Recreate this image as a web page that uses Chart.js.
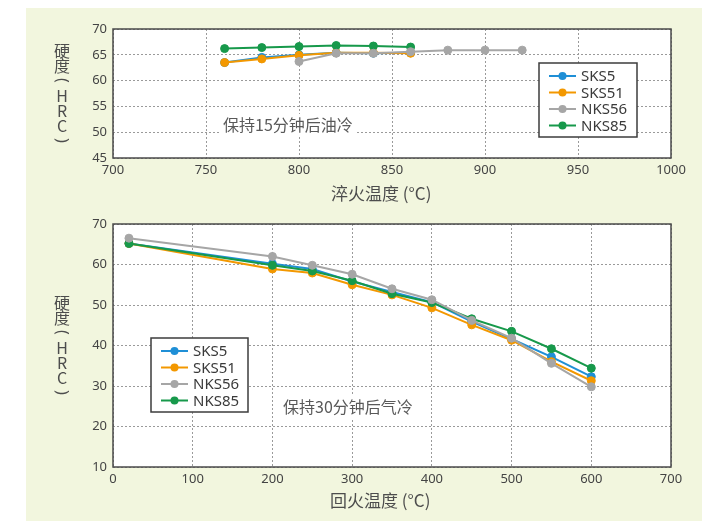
<!DOCTYPE html>
<html>
<head>
<meta charset="utf-8">
<script src="https://cdn.jsdelivr.net/npm/chart.js@4.4.1/dist/chart.umd.min.js"></script>
<style>
  html, body { margin: 0; padding: 0; background: #ffffff; }
  #wrap { position: relative; width: 716px; height: 521px; overflow: hidden; }
  #panel { position: absolute; left: 26px; top: 8px; width: 676px; height: 513px; background: #f2f6de; }
  canvas { position: absolute; left: 0; }
  #quench { top: 0; }
  #temper { top: 210px; }
</style>
</head>
<body>
<div id="wrap">
  <div id="panel"></div>
  <canvas id="quench" width="716" height="210"></canvas>
  <canvas id="temper" width="716" height="311"></canvas>
</div>
<script>
// Steel grades and their line colours
const seriesNames  = ['SKS5', 'SKS51', 'NKS56', 'NKS85'];
const seriesColors = ['#1f8fd6', '#f39800', '#a6a6a6', '#17994b'];
// drawing weight: higher numbers are painted first (underneath)
const seriesOrder  = [3, 2, 0, 1];

// Quenching temperature (°C) vs hardness (HRC), held 15 min then oil-cooled
const quenchTemps  = [760, 780, 800, 820, 840, 860, 880, 900, 920];
const quenchSKS5   = [63.5, 64.5, 65.0, 65.4, 65.3, 65.4, null, null, null];
const quenchSKS51  = [63.5, 64.2, 64.9, 65.4, 65.4, 65.3, null, null, null];
const quenchNKS56  = [null, null, 63.7, 65.3, 65.3, 65.6, 65.9, 65.9, 65.9];
const quenchNKS85  = [66.2, 66.4, 66.6, 66.8, 66.7, 66.5, null, null, null];

// Tempering temperature (°C) vs hardness (HRC), held 30 min then air-cooled
const temperTemps  = [20, 200, 250, 300, 350, 400, 450, 500, 550, 600];
const temperSKS5   = [65.2, 60.2, 58.9, 55.8, 53.2, 50.7, 45.9, 41.6, 37.2, 32.3];
const temperSKS51  = [65.2, 58.9, 57.9, 55.0, 52.5, 49.3, 45.1, 41.3, 36.0, 31.3];
const temperNKS56  = [66.5, 62.0, 59.8, 57.6, 54.0, 51.3, 46.2, 41.8, 35.6, 29.8];
const temperNKS85  = [65.2, 59.8, 58.4, 56.0, 52.8, 50.6, 46.6, 43.5, 39.2, 34.4];

// Axis tick labels
const quenchTicksX = [700, 750, 800, 850, 900, 950, 1000];
const quenchTicksY = [45, 50, 55, 60, 65, 70];
const temperTicksX = [0, 100, 200, 300, 400, 500, 600, 700];
const temperTicksY = [10, 20, 30, 40, 50, 60, 70];

// Text
const yTitleChars   = ['硬', '度', '(', 'H', 'R', 'C', ')'];
const quenchXTitle  = '淬火温度 (°C)';
const temperXTitle  = '回火温度 (°C)';
const quenchNote    = '保持15分钟后油冷';
const temperNote    = '保持30分钟后气冷';

const CJK = '"Noto Sans CJK SC", "Noto Sans", sans-serif';
const LAT = '"Noto Sans", "DejaVu Sans", sans-serif';

function makeDatasets(xs, columns) {
  return columns.map((vals, i) => ({
    label: seriesNames[i],
    data: xs.map((x, j) => ({ x: x, y: vals[j] })).filter(p => p.y !== null),
    borderColor: seriesColors[i],
    backgroundColor: seriesColors[i],
    pointBackgroundColor: seriesColors[i],
    pointBorderColor: seriesColors[i],
    borderWidth: 2,
    pointRadius: 4,
    pointBorderWidth: 1,
    tension: 0,
    order: seriesOrder[i]
  }));
}

// White plot background, grey frame, notes, legend, titles
const decorPlugin = {
  id: 'decor',
  beforeDraw(chart) {
    const a = chart.chartArea, ctx = chart.ctx;
    ctx.save();
    ctx.fillStyle = '#ffffff';
    ctx.fillRect(a.left, a.top, a.right - a.left, a.bottom - a.top);
    ctx.restore();
  },
  beforeDatasetsDraw(chart, args, o) {
    const a = chart.chartArea, ctx = chart.ctx;
    ctx.save();
    // note text with white box
    ctx.font = '16px ' + CJK;
    const w = ctx.measureText(o.note).width;
    ctx.fillStyle = '#ffffff';
    ctx.fillRect(o.noteX - 3, o.noteY - 11, w + 6, 22);
    ctx.fillStyle = '#595959';
    ctx.textBaseline = 'middle';
    ctx.textAlign = 'left';
    ctx.fillText(o.note, o.noteX, o.noteY);
    // frame
    ctx.strokeStyle = '#4a4a4a';
    ctx.lineWidth = 1.5;
    ctx.strokeRect(a.left, a.top, a.right - a.left, a.bottom - a.top);
    ctx.restore();
  },
  afterDatasetsDraw(chart, args, o) {
    const ctx = chart.ctx;
    const L = o.legend;
    ctx.save();
    ctx.fillStyle = '#ffffff';
    ctx.fillRect(L.x, L.y, L.w, L.h);
    ctx.strokeStyle = '#3c3c3c';
    ctx.lineWidth = 1.5;
    ctx.strokeRect(L.x, L.y, L.w, L.h);
    ctx.font = '15px ' + LAT;
    ctx.textBaseline = 'middle';
    ctx.textAlign = 'left';
    seriesNames.forEach((name, i) => {
      const cy = L.y + 13 + i * 16.5;
      const x0 = L.x + 10, x1 = L.x + 37;
      ctx.strokeStyle = seriesColors[i];
      ctx.lineWidth = 2;
      ctx.beginPath(); ctx.moveTo(x0, cy); ctx.lineTo(x1, cy); ctx.stroke();
      ctx.fillStyle = seriesColors[i];
      ctx.beginPath(); ctx.arc((x0 + x1) / 2, cy, 4, 0, Math.PI * 2); ctx.fill();
      ctx.fillStyle = '#3a3a3a';
      ctx.fillText(name, L.x + 42, cy + 1);
    });
    ctx.restore();
  },
  afterDraw(chart, args, o) {
    const a = chart.chartArea, ctx = chart.ctx;
    ctx.save();
    ctx.fillStyle = '#4d4d4d';
    // x-axis title
    ctx.font = '17px ' + CJK;
    ctx.textBaseline = 'middle';
    ctx.textAlign = 'left';
    ctx.fillText(o.xTitle, o.xTitleX, o.xTitleY);
    // vertical y-axis title, characters stacked upright, brackets turned
    const step = 15;
    const midY = (a.top + a.bottom) / 2 + 2;
    const startY = midY - step * (yTitleChars.length - 1) / 2;
    ctx.textAlign = 'center';
    yTitleChars.forEach((ch, i) => {
      const y = startY + i * step;
      if (ch === '(' || ch === ')') {
        ctx.save();
        ctx.translate(62, y);
        ctx.rotate(Math.PI / 2);
        ctx.font = '16px ' + LAT;
        ctx.fillText(ch, 0, 0);
        ctx.restore();
      } else {
        ctx.font = '16px ' + CJK;
        ctx.fillText(ch, 62, y);
      }
    });
    ctx.restore();
  }
};

function axisX(ticks, height) {
  return {
    type: 'linear',
    min: ticks[0], max: ticks[ticks.length - 1],
    afterBuildTicks: s => { s.ticks = ticks.map(v => ({ value: v })); },
    afterFit: s => { s.height = height; },
    grid: { color: '#9a9a9a', lineWidth: 1, drawTicks: false },
    border: { display: false, dash: [2, 2] },
    ticks: { padding: 4, color: '#444', font: { family: LAT, size: 13 }, maxRotation: 0, autoSkip: false,
             callback: v => String(v) }
  };
}
function axisY(ticks) {
  return {
    type: 'linear',
    min: ticks[0], max: ticks[ticks.length - 1],
    afterBuildTicks: s => { s.ticks = ticks.map(v => ({ value: v })); },
    afterFit: s => { s.width = 113; },
    grid: { color: '#9a9a9a', lineWidth: 1, drawTicks: false },
    border: { display: false, dash: [2, 2] },
    ticks: { padding: 6, color: '#444', font: { family: LAT, size: 13 }, autoSkip: false,
             callback: v => String(v) }
  };
}

function makeChart(id, xs, columns, tx, ty, padTop, xHeight, decor) {
  return new Chart(document.getElementById(id), {
    type: 'line',
    data: { datasets: makeDatasets(xs, columns) },
    options: {
      responsive: false,
      animation: false,
      devicePixelRatio: 1,
      layout: { padding: { left: 0, right: 45, top: padTop, bottom: 0 } },
      scales: { x: axisX(tx, xHeight), y: axisY(ty) },
      plugins: { legend: { display: false }, tooltip: { enabled: false }, decor: decor }
    },
    plugins: [decorPlugin]
  });
}

makeChart('quench', quenchTemps,
  [quenchSKS5, quenchSKS51, quenchNKS56, quenchNKS85],
  quenchTicksX, quenchTicksY, 29, 52,
  { note: quenchNote, noteX: 223, noteY: 125,
    legend: { x: 539, y: 63, w: 98, h: 74 },
    xTitle: quenchXTitle, xTitleX: 331, xTitleY: 194 });

makeChart('temper', temperTemps,
  [temperSKS5, temperSKS51, temperNKS56, temperNKS85],
  temperTicksX, temperTicksY, 14, 54,
  { note: temperNote, noteX: 283, noteY: 197,
    legend: { x: 151, y: 128, w: 97, h: 74 },
    xTitle: temperXTitle, xTitleX: 330, xTitleY: 291 });
</script>
</body>
</html>
